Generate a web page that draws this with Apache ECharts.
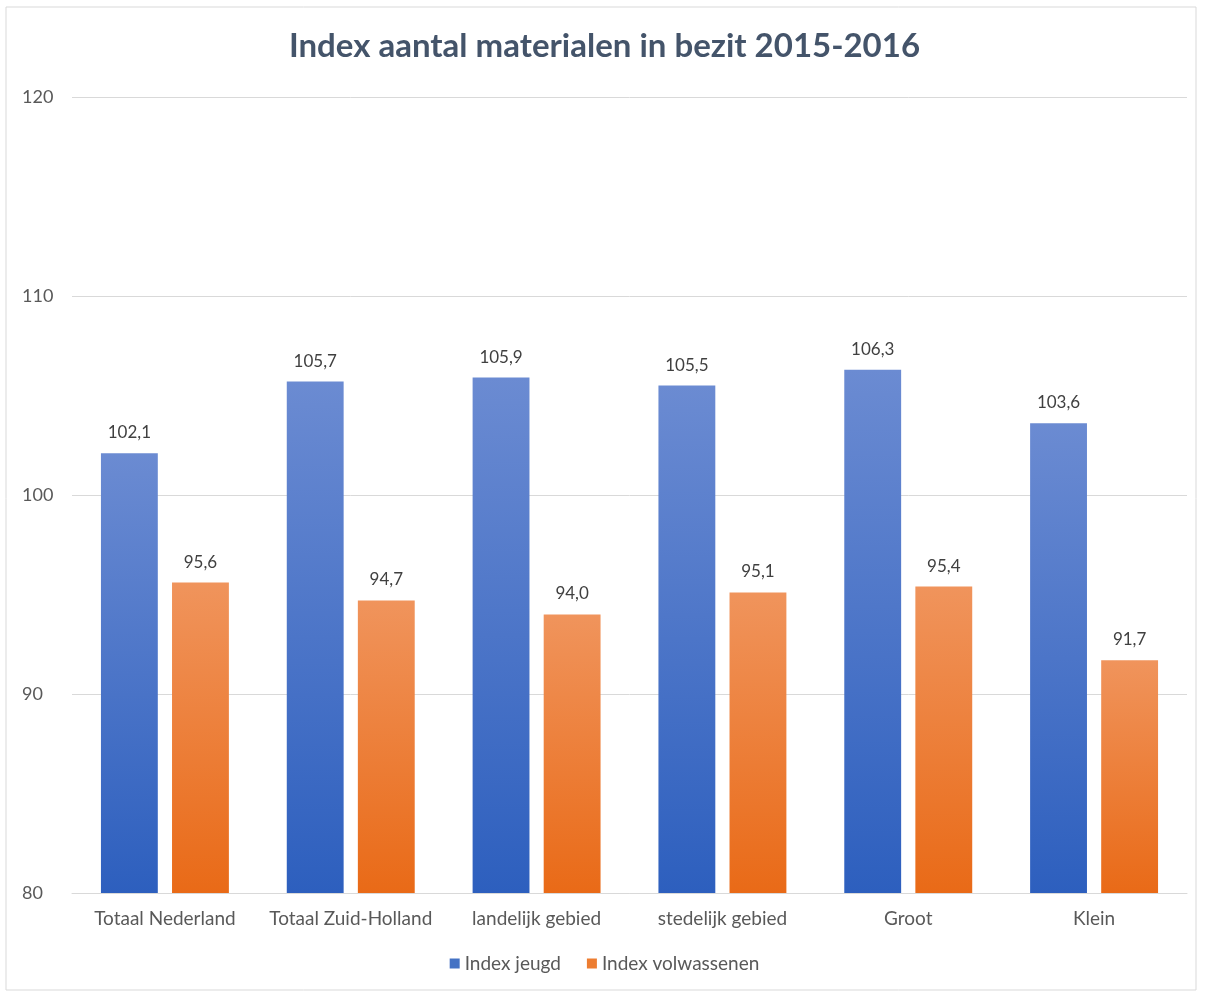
<!DOCTYPE html>
<html><head><meta charset="utf-8">
<script src="https://cdn.jsdelivr.net/npm/echarts@6/dist/echarts.min.js"></script>
<style>html,body{margin:0;padding:0;background:#fff}#c{width:1209px;height:992px}</style>
</head><body><div id="c"></div>
<script>
const categories = ['Totaal Nederland','Totaal Zuid-Holland','landelijk gebied','stedelijk gebied','Groot','Klein'];
const jeugd = [102.1,105.7,105.9,105.5,106.3,103.6];
const volwassenen = [95.6,94.7,94.0,95.1,95.4,91.7];
const seriesNames = ['Index jeugd','Index volwassenen'];
const FONT = 'Lato, "Open Sans", sans-serif';
const chart = echarts.init(document.getElementById('c'));
const fmt = p => p.value.toFixed(1).replace('.', ',');
chart.setOption({
  animation:false,
  textStyle:{fontFamily:FONT},
  graphic:[{type:'rect',shape:{x:6,y:7,width:1190,height:983},style:{fill:'none',stroke:'#d9d9d9',lineWidth:1},silent:true}],
  title:{text:'Index aantal materialen in bezit 2015-2016',left:'center',top:25,
    textStyle:{fontFamily:FONT,fontSize:33,fontWeight:'bold',color:'#44546a'}},
  legend:{bottom:14,left:'center',itemWidth:10,itemHeight:10,itemGap:26,
    textStyle:{fontFamily:FONT,fontSize:19,color:'#595959'},
    data:[{name:seriesNames[0],icon:'rect',itemStyle:{color:'#4472c4'}},{name:seriesNames[1],icon:'rect',itemStyle:{color:'#ed7d31'}}]},
  grid:{left:72,right:22,top:97,bottom:99},
  xAxis:{type:'category',data:categories,
    axisLine:{lineStyle:{color:'#d9d9d9'}},axisTick:{show:false},
    axisLabel:{interval:0,fontFamily:FONT,fontSize:19,color:'#595959',margin:16}},
  yAxis:{type:'value',min:80,max:120,interval:10,
    axisLine:{show:false},axisTick:{show:false},
    splitLine:{lineStyle:{color:'#d9d9d9',width:1}},
    axisLabel:{fontFamily:FONT,fontSize:18,color:'#595959',margin:50,align:'left'}},
  series:[
    {name:seriesNames[0],type:'bar',data:jeugd,barWidth:'30.6%',barGap:'25%',
      itemStyle:{color:new echarts.graphic.LinearGradient(0,0,0,1,[{offset:0,color:'#6b8bd2'},{offset:1,color:'#2d5fbe'}])},
      label:{show:true,position:'top',distance:12,formatter:fmt,fontFamily:FONT,fontSize:17,color:'#404040'}},
    {name:seriesNames[1],type:'bar',data:volwassenen,barWidth:'30.6%',
      itemStyle:{color:new echarts.graphic.LinearGradient(0,0,0,1,[{offset:0,color:'#f0945c'},{offset:1,color:'#e96a17'}])},
      label:{show:true,position:'top',distance:12,formatter:fmt,fontFamily:FONT,fontSize:17,color:'#404040'}}
  ]
});
</script></body></html>
